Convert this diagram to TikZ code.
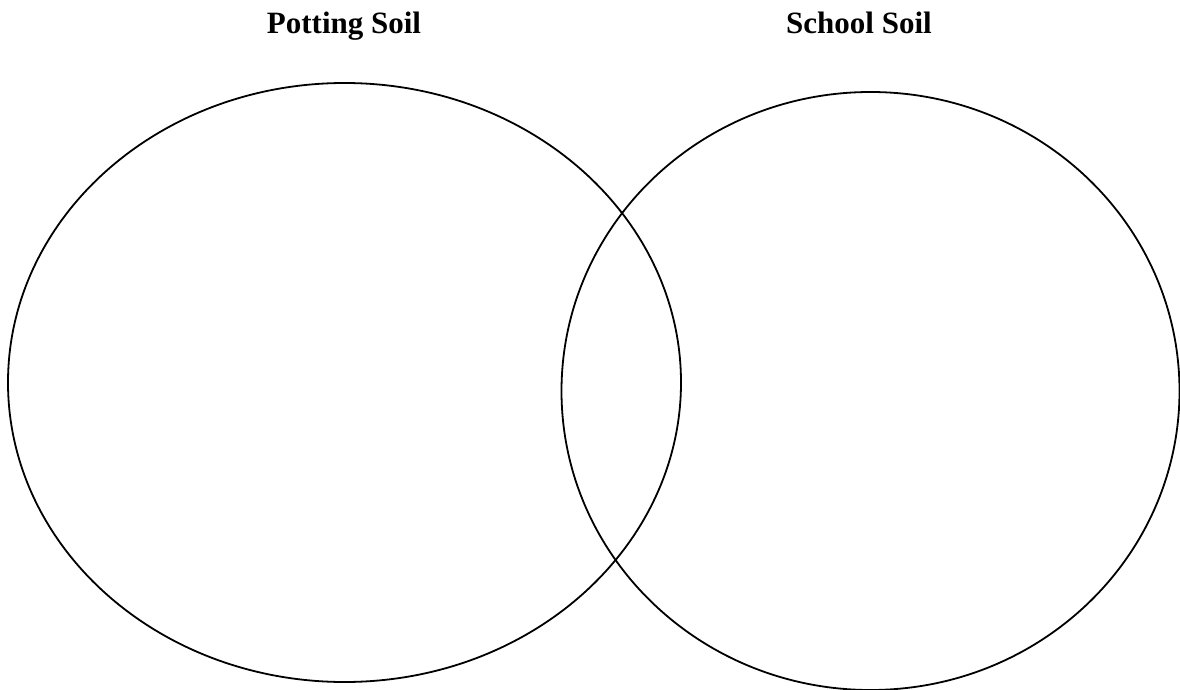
\documentclass[tikz,border=0pt]{standalone}
\usepackage{fontspec}
\setmainfont{Liberation Serif}
\begin{document}
\begin{tikzpicture}[x=1pt,y=-1pt,
  ring/.style={draw=black,line width=1.8pt},
  title/.style={font=\bfseries\fontsize{31}{36}\selectfont,anchor=base,inner sep=0pt}]
\useasboundingbox (0,0) rectangle (1180,690);
\draw[ring] (344.5,382.5) ellipse [x radius=336.5, y radius=299.5];
\draw[ring] (870.5,391) ellipse [x radius=309, y radius=299];
\node[title] (pot) at (344,33.5) {Potting Soil};
\node[title] (sch) at (859,33.5) {School Soil};
\end{tikzpicture}
\end{document}
